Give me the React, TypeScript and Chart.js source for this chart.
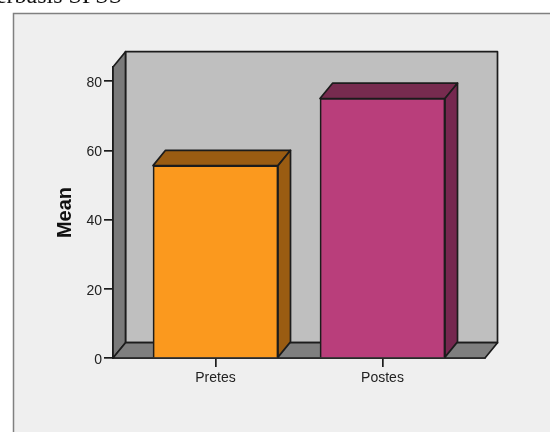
import React, { useEffect, useRef } from "react";
import { Chart, registerables } from "chart.js";

Chart.register(...registerables);

const categories = ["Pretes", "Postes"];
const means = [55.6, 75.0];
const yTickValues = [0, 20, 40, 60, 80];
const frontColors = ["#fb991e", "#b93e7b"];
const topColors = ["#9a5c12", "#772b4f"];
const sideColors = ["#9a5c12", "#75274f"];
const yAxisTitle = "Mean";
const captionText = "Berbasis SPSS";

const DX = 12.5;
const DY = 15.3;
const LINE = "#1c1c1c";
const LINE_WIDTH = 1.7;

function poly(ctx: CanvasRenderingContext2D, pts: number[][], fill: string) {
  ctx.beginPath();
  pts.forEach(([x, y], i) => (i ? ctx.lineTo(x, y) : ctx.moveTo(x, y)));
  ctx.closePath();
  ctx.fillStyle = fill;
  ctx.fill();
  ctx.stroke();
}

const panelPlugin = {
  id: "panel",
  beforeDraw(chart: any) {
    const { ctx, width, height } = chart;
    ctx.save();
    ctx.fillStyle = "#ffffff";
    ctx.fillRect(0, 0, width, height);
    ctx.fillStyle = "#efefef";
    ctx.strokeStyle = "#808080";
    ctx.lineWidth = 1.5;
    ctx.fillRect(13.5, 13.5, width, height);
    ctx.strokeRect(13.5, 13.5, width, height);
    ctx.restore();
  },
};

const depthPlugin = {
  id: "depth",
  beforeDatasetsDraw(chart: any) {
    const { ctx, chartArea: a } = chart;
    const { left: l, right: r, top: t, bottom: b } = a;
    ctx.save();
    ctx.strokeStyle = LINE;
    ctx.lineWidth = LINE_WIDTH;
    ctx.lineJoin = "round";
    poly(ctx, [[l + DX, t - DY], [r + DX, t - DY], [r + DX, b - DY], [l + DX, b - DY]], "#bfbfbf");
    poly(ctx, [[l, t], [l + DX, t - DY], [l + DX, b - DY], [l, b]], "#7a7a7a");
    poly(ctx, [[l, b], [l + DX, b - DY], [r + DX, b - DY], [r, b]], "#7f7f7f");
    const bars = chart.getDatasetMeta(0).data;
    bars.forEach((bar: any, i: number) => {
      const x0 = bar.x - bar.width / 2;
      const x1 = bar.x + bar.width / 2;
      poly(ctx, [[x0, bar.y], [x0 + DX, bar.y - DY], [x1 + DX, bar.y - DY], [x1, bar.y]], topColors[i]);
      poly(ctx, [[x1, bar.y], [x1 + DX, bar.y - DY], [x1 + DX, bar.base - DY], [x1, bar.base]], sideColors[i]);
    });
    ctx.restore();
  },
};

export default function App() {
  const ref = useRef<HTMLCanvasElement>(null);
  useEffect(() => {
    const chart = new Chart(ref.current as HTMLCanvasElement, {
      type: "bar",
      data: {
        datasets: [
          {
            data: means.map((v, i) => ({ x: i, y: v })),
            backgroundColor: frontColors,
            borderColor: LINE,
            borderWidth: LINE_WIDTH,
            barThickness: 125,
          },
        ],
      },
      options: {
        responsive: false,
        animation: false,
        devicePixelRatio: 1,
        layout: { padding: { left: 53, right: 65, top: 67, bottom: 0 } },
        plugins: { legend: { display: false }, tooltip: { enabled: false } },
        scales: {
          x: {
            type: "linear",
            offset: false,
            min: -0.6138,
            max: 1.6138,
            afterBuildTicks: (s: any) => {
              s.ticks = categories.map((_, i) => ({ value: i }));
            },
            afterFit: (s: any) => {
              s.height = 74;
            },
            grid: { offset: false, drawOnChartArea: false, drawTicks: true, tickLength: 9, color: LINE, lineWidth: LINE_WIDTH },
            border: { display: true, color: LINE, width: LINE_WIDTH },
            ticks: {
              autoSkip: false,
              maxRotation: 0,
              padding: 3,
              color: "#222222",
              font: { family: "Liberation Sans", size: 14 },
              callback: (v: any) => categories[v],
            },
          },
          y: {
            min: 0,
            max: 84.1,
            afterBuildTicks: (s: any) => {
              s.ticks = yTickValues.map((value) => ({ value }));
            },
            afterFit: (s: any) => {
              s.width = 60;
            },
            grid: { drawOnChartArea: false, drawTicks: true, tickLength: 9, color: LINE, lineWidth: LINE_WIDTH },
            border: { display: true, color: LINE, width: LINE_WIDTH },
            ticks: {
              padding: 2,
              labelOffset: 2,
              color: "#222222",
              font: { family: "Liberation Sans", size: 14 },
            },
            title: {
              display: true,
              text: yAxisTitle,
              color: "#111111",
              padding: 0,
              font: { family: "Liberation Sans", size: 20, weight: "bold" },
            },
          },
        },
      },
      plugins: [panelPlugin, depthPlugin],
    } as any);
    return () => chart.destroy();
  }, []);
  return (
    <div style={{ position: "fixed", left: 0, top: 0, width: 550, height: 432, overflow: "hidden", background: "#fff" }}>
      <canvas ref={ref} width={550} height={432} style={{ display: "block" }} />
      <div
        style={{
          position: "absolute",
          right: 428,
          top: -17,
          whiteSpace: "nowrap",
          fontFamily: "Liberation Serif",
          fontSize: 24,
          lineHeight: "24px",
          color: "#111",
        }}
      >
        {captionText}
      </div>
    </div>
  );
}
